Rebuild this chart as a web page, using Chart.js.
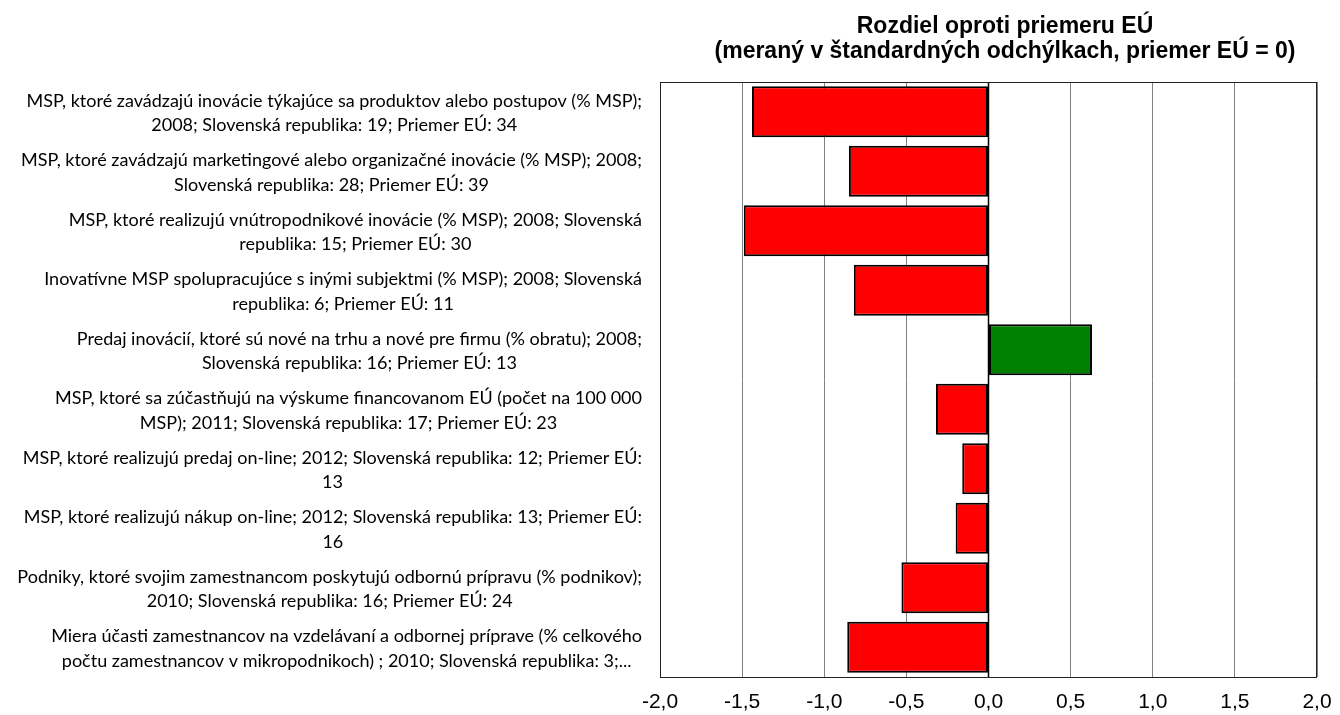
<!DOCTYPE html>
<html>
<head>
<meta charset="utf-8">
<title>Rozdiel oproti priemeru EÚ</title>
<script src="https://cdn.jsdelivr.net/npm/chart.js@4.4.1/dist/chart.umd.min.js"></script>
<style>
    html, body { margin: 0; padding: 0; background: #fff; }
    #wrap { width: 1340px; height: 715px; }
</style>
</head>
<body>
<div id="wrap"><canvas id="diffChart" width="1340" height="715"></canvas></div>
<script>
// Kategórie (riadky popisu)
var categoryLabels = [
    ["MSP, ktoré zavádzajú inovácie týkajúce sa produktov alebo postupov (% MSP);", "2008; Slovenská republika: 19; Priemer EÚ: 34"],
    ["MSP, ktoré zavádzajú marketingové alebo organizačné inovácie (% MSP); 2008;", "Slovenská republika: 28; Priemer EÚ: 39"],
    ["MSP, ktoré realizujú vnútropodnikové inovácie (% MSP); 2008; Slovenská", "republika: 15; Priemer EÚ: 30"],
    ["Inovatívne MSP spolupracujúce s inými subjektmi (% MSP); 2008; Slovenská", "republika: 6; Priemer EÚ: 11"],
    ["Predaj inovácií, ktoré sú nové na trhu a nové pre firmu (% obratu); 2008;", "Slovenská republika: 16; Priemer EÚ: 13"],
    ["MSP, ktoré sa zúčastňujú na výskume financovanom EÚ (počet na 100 000", "MSP); 2011; Slovenská republika: 17; Priemer EÚ: 23"],
    ["MSP, ktoré realizujú predaj on-line; 2012; Slovenská republika: 12; Priemer EÚ:", "13"],
    ["MSP, ktoré realizujú nákup on-line; 2012; Slovenská republika: 13; Priemer EÚ:", "16"],
    ["Podniky, ktoré svojim zamestnancom poskytujú odbornú prípravu (% podnikov);", "2010; Slovenská republika: 16; Priemer EÚ: 24"],
    ["Miera účasti zamestnancov na vzdelávaní a odbornej príprave (% celkového", "počtu zamestnancov v mikropodnikoch) ; 2010; Slovenská republika: 3;..."]
];

// Rozdiel v štandardných odchýlkach
var diffValues = [-1.44, -0.85, -1.49, -0.82, 0.63, -0.32, -0.16, -0.20, -0.53, -0.86];

var titleLines = ["Rozdiel oproti priemeru EÚ", "(meraný v štandardných odchýlkach, priemer EÚ = 0)"];

var xMin = -2, xMax = 2, xStep = 0.5;

var barColors = diffValues.map(v => v < 0 ? '#ff0000' : '#008000');

// Popisy kategórií: blok zarovnaný vpravo, riadky centrované
var categoryLabelPlugin = {
    id: 'categoryLabels',
    afterDraw: function (chart) {
        var ctx = chart.ctx;
        var yScale = chart.scales.y;
        var right = chart.chartArea.left - 18;
        ctx.save();
        ctx.font = '18px Lato, "Open Sans", sans-serif';
        ctx.fillStyle = '#000';
        ctx.textAlign = 'center';
        ctx.textBaseline = 'middle';
        categoryLabels.forEach((lines, i) => {
            var widest = Math.max.apply(null, lines.map(l => ctx.measureText(l).width));
            var cx = right - widest / 2;
            var cy = yScale.getPixelForValue(i) + 1.5;
            var lh = 24.5;
            var top = cy - (lines.length - 1) * lh / 2;
            lines.forEach((line, j) => {
                ctx.fillText(line, cx, top + j * lh);
            });
        });
        ctx.restore();
    }
};

// Nadpis nad grafom
var titlePlugin = {
    id: 'topTitle',
    afterDraw: function (chart) {
        var ctx = chart.ctx;
        ctx.save();
        ctx.font = 'bold 23px "Liberation Sans", Arial, sans-serif';
        ctx.fillStyle = '#000';
        ctx.textAlign = 'center';
        ctx.textBaseline = 'middle';
        ctx.fillText(titleLines[0], 1005, 27);
        ctx.fillText(titleLines[1], 1005, 52);
        ctx.restore();
    }
};

// Rámček a nulová os
var framePlugin = {
    id: 'frame',
    afterDatasetsDraw: function (chart) {
        var ctx = chart.ctx;
        var a = chart.chartArea;
        var x0 = chart.scales.x.getPixelForValue(0);
        ctx.save();
        ctx.strokeStyle = '#000';
        ctx.lineWidth = 1.5;
        ctx.beginPath();
        ctx.moveTo(x0, a.top);
        ctx.lineTo(x0, a.bottom);
        ctx.stroke();
        ctx.lineWidth = 1;
        ctx.strokeStyle = '#222';
        ctx.strokeRect(a.left + 0.5, a.top + 0.5, a.right - a.left - 1, a.bottom - a.top);
        ctx.restore();
    }
};

document.addEventListener("DOMContentLoaded", function () {
    var ctx = document.getElementById('diffChart').getContext('2d');

    new Chart(ctx, {
        type: 'bar',
        data: {
            labels: categoryLabels.map(l => l.join(' ')),
            datasets: [{
                data: diffValues,
                backgroundColor: barColors,
                borderColor: '#000',
                borderWidth: 2,
                borderSkipped: false,
                categoryPercentage: 0.86,
                barPercentage: 1
            }]
        },
        options: {
            indexAxis: 'y',
            responsive: false,
            animation: false,
            layout: {
                padding: { top: 82, right: 23, bottom: 0, left: 0 }
            },
            plugins: {
                legend: { display: false },
                title: { display: false },
                tooltip: { enabled: false }
            },
            scales: {
                x: {
                    min: xMin,
                    max: xMax,
                    afterFit: function (scale) {
                        scale.height = 38;
                        scale.paddingLeft = 0;
                        scale.paddingRight = 0;
                    },
                    border: { display: false },
                    grid: {
                        color: '#808080',
                        lineWidth: 1,
                        drawTicks: false
                    },
                    ticks: {
                        stepSize: xStep,
                        padding: 13,
                        color: '#000',
                        font: { family: '"Liberation Sans", Arial, sans-serif', size: 21 },
                        callback: function (value) {
                            return value.toFixed(1).replace('.', ',');
                        }
                    }
                },
                y: {
                    afterFit: function (scale) { scale.width = 660; },
                    border: { display: false },
                    grid: { display: false },
                    ticks: { display: false }
                }
            }
        },
        plugins: [categoryLabelPlugin, titlePlugin, framePlugin]
    });
});
</script>
</body>
</html>
